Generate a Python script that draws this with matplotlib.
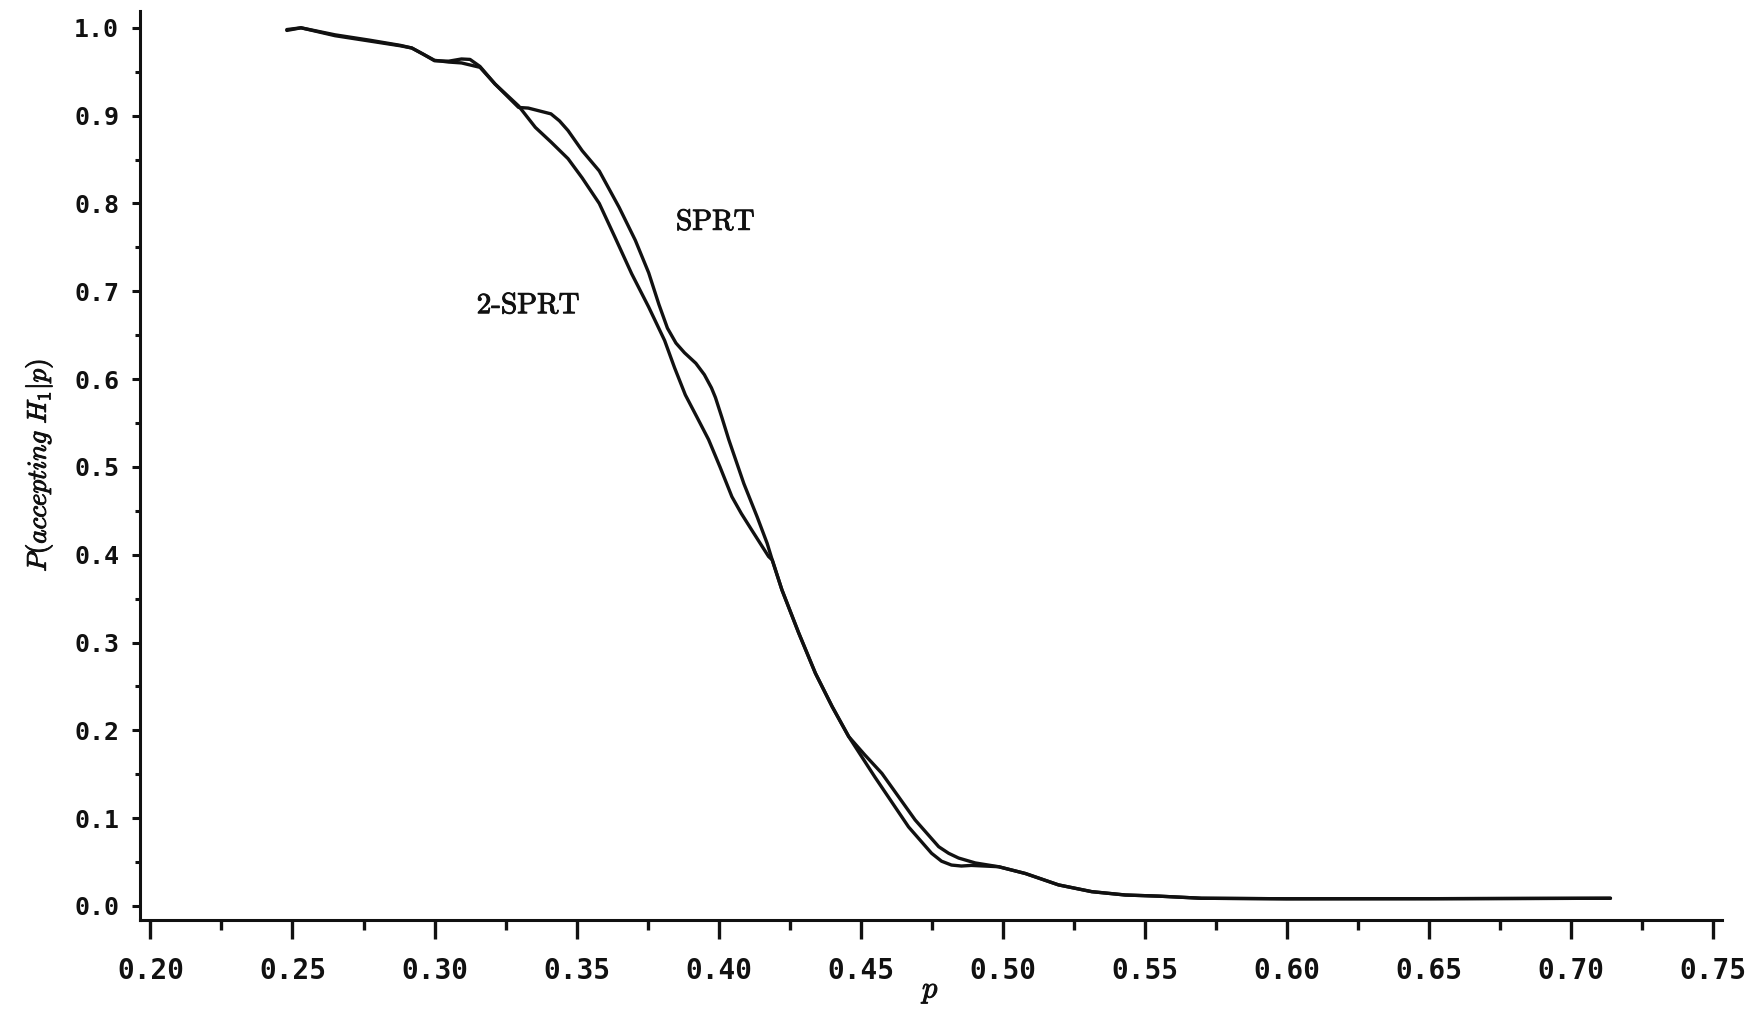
import numpy as np
import matplotlib.pyplot as plt
import matplotlib.patheffects as pe
from matplotlib.ticker import MultipleLocator, FormatStrFormatter

plt.rcParams['mathtext.fontset'] = 'cm'

# operating characteristic curves
sprt_p = [0.248, 0.253, 0.265, 0.277, 0.288, 0.292, 0.296, 0.300, 0.305, 0.3095,
          0.3125, 0.316, 0.3213, 0.3296, 0.333, 0.341, 0.344, 0.347, 0.352, 0.358,
          0.365, 0.3707, 0.3754, 0.379, 0.382, 0.385, 0.388, 0.392, 0.395, 0.3975,
          0.3989, 0.4012, 0.4036, 0.4089, 0.4136, 0.4171, 0.4189, 0.4223, 0.4282,
          0.4341, 0.440, 0.4458, 0.4515, 0.4575, 0.4692, 0.4775, 0.481, 0.4845,
          0.4904, 0.4986, 0.508, 0.5197, 0.5314, 0.5432, 0.555, 0.57, 0.60, 0.65,
          0.714]
sprt_acc = [0.997, 1.000, 0.991, 0.985, 0.9795, 0.977, 0.970, 0.9625, 0.962, 0.9645,
            0.964, 0.956, 0.936, 0.9093, 0.9086, 0.902, 0.894, 0.883, 0.860, 0.837,
            0.7955, 0.758, 0.721, 0.685, 0.658, 0.641, 0.630, 0.618, 0.605, 0.590,
            0.579, 0.556, 0.531, 0.481, 0.443, 0.413, 0.394, 0.360, 0.311,
            0.265, 0.227, 0.193, 0.172, 0.151, 0.098, 0.0675, 0.060, 0.0546,
            0.049, 0.0447, 0.037, 0.024, 0.0163, 0.0125, 0.0112, 0.0088, 0.0082,
            0.0083, 0.0088]

two_p = [0.248, 0.253, 0.265, 0.277, 0.288, 0.292, 0.296, 0.300, 0.305, 0.3095,
         0.316, 0.3213, 0.3296, 0.3355, 0.341, 0.347, 0.352, 0.358, 0.3636, 0.3694,
         0.3754, 0.381, 0.3845, 0.3883, 0.3925, 0.3965, 0.4005, 0.4047, 0.408,
         0.4117, 0.4176, 0.4189, 0.4223, 0.4282, 0.4341, 0.440, 0.4458, 0.455,
         0.4669, 0.475, 0.4785, 0.482, 0.4855, 0.489, 0.4986, 0.508, 0.5197,
         0.5314, 0.5432, 0.555, 0.57, 0.60, 0.65, 0.714]
two_acc = [0.998, 1.000, 0.992, 0.986, 0.980, 0.977, 0.970, 0.963, 0.961, 0.960,
           0.955, 0.936, 0.911, 0.8866, 0.870, 0.851, 0.829, 0.800, 0.761, 0.720,
           0.682, 0.644, 0.613, 0.582, 0.556, 0.531, 0.500, 0.466, 0.447,
           0.428, 0.398, 0.394, 0.360, 0.311, 0.265, 0.227, 0.193, 0.147,
           0.090, 0.060, 0.051, 0.0466, 0.0455, 0.0462, 0.0447, 0.037, 0.024,
           0.0163, 0.0125, 0.0112, 0.0088, 0.0082, 0.0083, 0.0088]

xticks = [0.20, 0.25, 0.30, 0.35, 0.40, 0.45, 0.50, 0.55, 0.60, 0.65, 0.70, 0.75]
yticks = [0.0, 0.1, 0.2, 0.3, 0.4, 0.5, 0.6, 0.7, 0.8, 0.9, 1.0]

fig = plt.figure(figsize=(17.54, 10.11), dpi=100)
ax = fig.add_axes([0.0798, 0.0905, 0.902, 0.8985])

ink = '#111111'
bold_ink = [pe.withStroke(linewidth=0.7, foreground=ink)]

ax.plot(sprt_p, sprt_acc, color=ink, lw=2.4, solid_joinstyle='round', solid_capstyle='round')
ax.plot(two_p, two_acc, color=ink, lw=2.4, solid_joinstyle='round', solid_capstyle='round')

ax.text(0.399, 0.779, r'$\mathrm{SPRT}$', fontsize=21, ha='center', va='center',
        color=ink, path_effects=bold_ink)
ax.text(0.3331, 0.684, r'$\mathrm{2\text{-}SPRT}$', fontsize=21, ha='center', va='center',
        color=ink, path_effects=bold_ink)

ax.set_xlim(0.1963, 0.7533)
ax.set_ylim(-0.0154, 1.019)

ax.set_xticks(xticks)
ax.set_yticks(yticks)
ax.xaxis.set_minor_locator(MultipleLocator(0.025))
ax.yaxis.set_minor_locator(MultipleLocator(0.05))
ax.xaxis.set_major_formatter(FormatStrFormatter('%.2f'))
ax.yaxis.set_major_formatter(FormatStrFormatter('%.1f'))

for s in ['top', 'right']:
    ax.spines[s].set_visible(False)
for s in ['left', 'bottom']:
    ax.spines[s].set_linewidth(2.2)
    ax.spines[s].set_color(ink)

ax.tick_params(axis='x', which='major', direction='out', length=14, width=2.4, pad=13, colors=ink)
ax.tick_params(axis='x', which='minor', direction='out', length=7, width=2.4, colors=ink)
ax.tick_params(axis='y', which='major', direction='out', length=6, width=2.2, pad=9, colors=ink)
ax.tick_params(axis='y', which='minor', direction='out', length=3.5, width=2.2, colors=ink)

for lab in ax.get_xticklabels():
    lab.set_fontfamily('DejaVu Sans Mono')
    lab.set_fontweight('bold')
    lab.set_fontsize(20)
for lab in ax.get_yticklabels():
    lab.set_fontfamily('DejaVu Sans Mono')
    lab.set_fontweight('bold')
    lab.set_fontsize(18)

xl = ax.set_xlabel(r'$p$', fontsize=22, labelpad=-6, color=ink)
yl = ax.set_ylabel(r'$P(accepting\ H_1|p)$', fontsize=19.5, labelpad=14, color=ink)
xl.set_path_effects(bold_ink)
yl.set_path_effects(bold_ink)

fig.savefig('out.png', dpi=100)
